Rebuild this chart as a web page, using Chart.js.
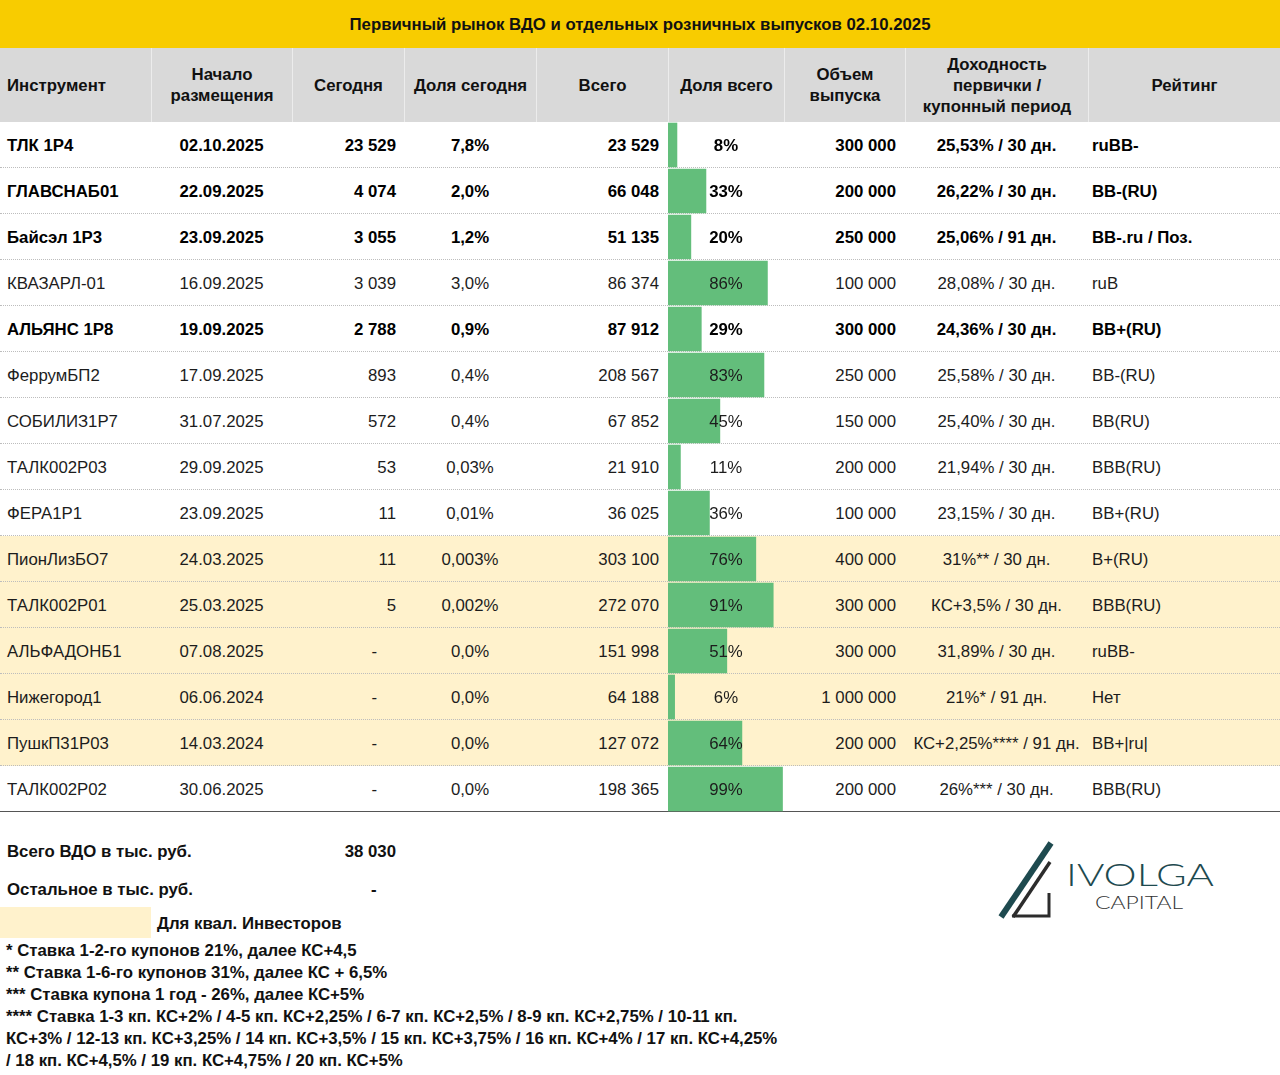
<!DOCTYPE html>
<html lang="ru">
<head>
<meta charset="utf-8">
<title>Первичный рынок ВДО 02.10.2025</title>
<script src="https://cdn.jsdelivr.net/npm/chart.js@4.4.1/dist/chart.umd.min.js"></script>
<style>
  html, body { margin: 0; padding: 0; background: #fff; }
  body {
    width: 1280px; height: 1075px; position: relative; overflow: hidden;
    font-family: "Liberation Sans", Arial, sans-serif; font-size: 16.8px; color: #1c1c1c;
  }
  .title {
    position: absolute; left: 0; top: 0; width: 1280px; height: 48px;
    background: #f8cc00; color: #111; font-weight: bold; text-align: center; line-height: 50px;
  }
  .head { position: absolute; left: 0; top: 48px; width: 1280px; height: 74px; background: #d9d9d9; }
  .hcell {
    position: absolute; top: 0; height: 74px; box-sizing: border-box;
    display: flex; align-items: center; justify-content: center; text-align: center;
    font-weight: bold; line-height: 21px; color: #111; border-left: 1px solid #ececec;
  }
  .row {
    position: absolute; left: 0; width: 1280px; height: 46px; box-sizing: border-box;
    border-bottom: 1px dotted #bdbdbd;
  }
  .row.last { border-bottom: 1px solid #555; }
  .row.qual { background: #fff2cc; }
  .row.bold { font-weight: bold; color: #000; }
  .cell { position: absolute; top: 0; height: 46px; line-height: 47px; white-space: nowrap; box-sizing: border-box; }
  .lbl { position: relative; z-index: 2; }
  #barsWrap { position: absolute; left: 668px; top: 122px; width: 116px; height: 690px; z-index: 1; }
  .foot { position: absolute; font-weight: bold; color: #111; line-height: 22px; white-space: nowrap; }
  .notes { position: absolute; left: 6px; top: 940px; font-weight: bold; color: #111; line-height: 21.9px; white-space: nowrap; }
</style>
</head>
<body>

<div class="title">Первичный рынок ВДО и отдельных розничных выпусков 02.10.2025</div>
<div class="head" id="head"></div>
<div id="rows"></div>
<div id="barsWrap"><canvas id="bars" width="116" height="690"></canvas></div>

<div class="foot" style="left:7px; top:841px;">Всего ВДО в тыс. руб.</div>
<div class="foot" style="left:292px; width:104px; text-align:right; top:841px;">38 030</div>
<div class="foot" style="left:7px; top:879px;">Остальное в тыс. руб.</div>
<div class="foot" style="left:371px; top:879px;">-</div>
<div style="position:absolute; left:0; top:907px; width:151px; height:31px; background:#fff2cc;"></div>
<div class="foot" style="left:157px; top:913px;">Для квал. Инвесторов</div>

<div class="notes">
* Ставка 1-2-го купонов 21%, далее КС+4,5<br>
** Ставка 1-6-го купонов 31%, далее КС + 6,5%<br>
*** Ставка купона 1 год - 26%, далее КС+5%<br>
**** Ставка 1-3 кп. КС+2% / 4-5 кп. КС+2,25% / 6-7 кп. КС+2,5% / 8-9 кп. КС+2,75% / 10-11 кп.<br>
КС+3% / 12-13 кп. КС+3,25% / 14 кп. КС+3,5% / 15 кп. КС+3,75% / 16 кп. КС+4% / 17 кп. КС+4,25%<br>
/ 18 кп. КС+4,5% / 19 кп. КС+4,75% / 20 кп. КС+5%
</div>

<svg style="position:absolute; left:990px; top:835px;" width="240" height="90" viewBox="990 835 240 90">
  <line x1="1001" y1="917" x2="1051" y2="843" stroke="#1e4a4f" stroke-width="6"/>
  <polyline points="1013,917 1050,862" fill="none" stroke="#2c2c2c" stroke-width="3.5"/>
  <polyline points="1012,916 1049,916 1049,893" fill="none" stroke="#2c2c2c" stroke-width="3"/>
  <text x="1066" y="886" font-family="Lato, 'DejaVu Sans', sans-serif" font-weight="300" font-size="32"
        fill="#1e4a4f" textLength="148" lengthAdjust="spacingAndGlyphs">IVOLGA</text>
  <text x="1095" y="909" font-family="Lato, 'DejaVu Sans', sans-serif" font-weight="300" font-size="17"
        fill="#333" textLength="88" lengthAdjust="spacingAndGlyphs">CAPITAL</text>
</svg>

<script>
// данные таблицы
const instruments = ['ТЛК 1Р4', 'ГЛАВСНАБ01', 'Байсэл 1Р3', 'КВАЗАРЛ-01', 'АЛЬЯНС 1Р8', 'ФеррумБП2', 'СОБИЛИЗ1Р7',
  'ТАЛК002Р03', 'ФЕРА1Р1', 'ПионЛизБО7', 'ТАЛК002Р01', 'АЛЬФАДОНБ1', 'Нижегород1', 'ПушкП31Р03', 'ТАЛК002Р02'];
const startDates = ['02.10.2025', '22.09.2025', '23.09.2025', '16.09.2025', '19.09.2025', '17.09.2025', '31.07.2025',
  '29.09.2025', '23.09.2025', '24.03.2025', '25.03.2025', '07.08.2025', '06.06.2024', '14.03.2024', '30.06.2025'];
const today = [23529, 4074, 3055, 3039, 2788, 893, 572, 53, 11, 11, 5, null, null, null, null];
const todayShare = ['7,8%', '2,0%', '1,2%', '3,0%', '0,9%', '0,4%', '0,4%', '0,03%', '0,01%', '0,003%', '0,002%',
  '0,0%', '0,0%', '0,0%', '0,0%'];
const total = [23529, 66048, 51135, 86374, 87912, 208567, 67852, 21910, 36025, 303100, 272070, 151998, 64188, 127072, 198365];
const totalShare = [8, 33, 20, 86, 29, 83, 45, 11, 36, 76, 91, 51, 6, 64, 99];
const issueVolume = [300000, 200000, 250000, 100000, 300000, 250000, 150000, 200000, 100000, 400000, 300000, 300000,
  1000000, 200000, 200000];
const yields = ['25,53% / 30 дн.', '26,22% / 30 дн.', '25,06% / 91 дн.', '28,08% / 30 дн.', '24,36% / 30 дн.',
  '25,58% / 30 дн.', '25,40% / 30 дн.', '21,94% / 30 дн.', '23,15% / 30 дн.', '31%** / 30 дн.', 'КС+3,5% / 30 дн.',
  '31,89% / 30 дн.', '21%* / 91 дн.', 'КС+2,25%**** / 91 дн.', '26%*** / 30 дн.'];
const ratings = ['ruBB-', 'BB-(RU)', 'BB-.ru / Поз.', 'ruB', 'BB+(RU)', 'BB-(RU)', 'BB(RU)', 'BBB(RU)', 'BB+(RU)',
  'B+(RU)', 'BBB(RU)', 'ruBB-', 'Нет', 'BB+|ru|', 'BBB(RU)'];
const boldRows = [0, 1, 2, 4];
const qualRows = [9, 10, 11, 12, 13];
const headers = ['Инструмент', 'Начало<br>размещения', 'Сегодня', 'Доля сегодня', 'Всего', 'Доля всего',
  'Объем<br>выпуска', 'Доходность<br>первички /<br>купонный период', 'Рейтинг'];

// раскладка колонок
const cols = [
  { l: 0, w: 151, a: 'left', p: 7 },
  { l: 151, w: 141, a: 'center' },
  { l: 292, w: 112, a: 'right', p: 8 },
  { l: 404, w: 132, a: 'center' },
  { l: 536, w: 132, a: 'right', p: 9 },
  { l: 668, w: 116, a: 'center' },
  { l: 784, w: 121, a: 'right', p: 9 },
  { l: 905, w: 183, a: 'center' },
  { l: 1088, w: 192, a: 'left', p: 4 }
];

const fmt = n => String(n).replace(/\B(?=(\d{3})+(?!\d))/g, ' ');

const head = document.getElementById('head');
headers.forEach((h, i) => {
  const c = cols[i];
  const d = document.createElement('div');
  d.className = 'hcell';
  d.style.left = c.l + 'px';
  d.style.width = c.w + 'px';
  if (i === 0) { d.style.justifyContent = 'flex-start'; d.style.paddingLeft = '7px'; d.style.borderLeft = 'none'; }
  d.innerHTML = h;
  head.appendChild(d);
});

const rowsEl = document.getElementById('rows');
instruments.forEach((name, r) => {
  const row = document.createElement('div');
  row.className = 'row' + (boldRows.includes(r) ? ' bold' : '') + (qualRows.includes(r) ? ' qual' : '') +
    (r === instruments.length - 1 ? ' last' : '');
  row.style.top = (122 + r * 46) + 'px';
  const vals = [name, startDates[r], today[r] == null ? '-' : fmt(today[r]), todayShare[r], fmt(total[r]),
    totalShare[r] + '%', fmt(issueVolume[r]), yields[r], ratings[r]];
  vals.forEach((v, i) => {
    const c = cols[i];
    const d = document.createElement('div');
    d.className = 'cell';
    d.style.left = c.l + 'px';
    d.style.width = c.w + 'px';
    d.style.textAlign = c.a;
    if (c.a === 'left') d.style.paddingLeft = c.p + 'px';
    if (c.a === 'right') d.style.paddingRight = (i === 2 && v === '-' ? 27 : c.p) + 'px';
    if (i === 5) {
      d.innerHTML = '<span class="lbl">' + v + '</span>';
    } else {
      d.textContent = v;
    }
    row.appendChild(d);
  });
  rowsEl.appendChild(row);
});

// гистограммы в колонке "Доля всего"
new Chart(document.getElementById('bars'), {
  type: 'bar',
  data: {
    labels: instruments,
    datasets: [{
      data: totalShare,
      backgroundColor: '#63be7b',
      borderWidth: 0,
      barPercentage: 1,
      categoryPercentage: 0.97
    }]
  },
  options: {
    indexAxis: 'y',
    responsive: false,
    animation: false,
    events: [],
    layout: { padding: 0 },
    plugins: { legend: { display: false }, tooltip: { enabled: false } },
    scales: {
      x: { display: false, min: 0, max: 100 },
      y: { display: false }
    }
  }
});
</script>
</body>
</html>
